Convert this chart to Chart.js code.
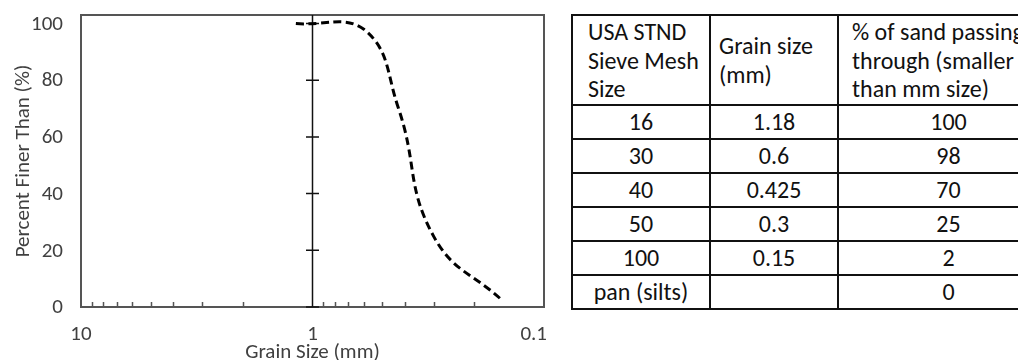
<!DOCTYPE html>
<html>
<head>
<meta charset="utf-8">
<script src="https://cdn.jsdelivr.net/npm/chart.js@4/dist/chart.umd.min.js"></script>
<style>
  html, body { margin: 0; padding: 0; background: #fff; overflow: hidden; width: 1018px; height: 360px; }
  #wrap { position: absolute; left: 0; top: 0; width: 560px; height: 360px; }
  table { position: absolute; left: 571px; top: 14px; border-collapse: collapse; table-layout: fixed; width: 487px;
          font-family: Carlito, Lato, sans-serif; font-size: 24px; color: #111; }
  td { border: 2px solid #111; padding: 0; white-space: nowrap; text-align: center; line-height: 29px; overflow: visible; }
  tr { height: 34px; }
  tr.head { height: 88px; }
  tr.head td { text-align: left; vertical-align: middle; line-height: 28.5px; padding-top: 2px; }
</style>
</head>
<body>
<div id="wrap"><canvas id="c" width="560" height="360"></canvas></div>
<table id="tbl"></table>
<script>
// ---- data ----
const grainSize = [1.18, 0.6, 0.425, 0.3, 0.15];
const percentFiner = [100, 98, 70, 25, 2];
const xTickLabels = [10, 1, 0.1];
const yTickValues = [0, 20, 40, 60, 80, 100];
const tableHeaders = [
  ['USA STND', 'Sieve Mesh', 'Size'],
  ['Grain size', '(mm)'],
  ['% of sand passing', 'through (smaller', 'than mm size)']
];
const meshSizes = ['16', '30', '40', '50', '100', 'pan (silts)'];
const tableGrain = ['1.18', '0.6', '0.425', '0.3', '0.15', ''];
const tablePassing = ['100', '98', '70', '25', '2', '0'];

// ---- table ----
const tbl = document.getElementById('tbl');
const colW = [138, 128, 221];
const headPad = [15, 8, 13];
let html = '<colgroup>' + colW.map(w => `<col style="width:${w}px">`).join('') + '</colgroup>';
html += '<tr class="head">' + tableHeaders.map((h, i) =>
  `<td style="padding-left:${headPad[i]}px">${h.join('<br>')}</td>`).join('') + '</tr>';
meshSizes.forEach((m, i) => {
  html += `<tr><td>${m}</td><td>${tableGrain[i]}</td><td>${tablePassing[i]}</td></tr>`;
});
tbl.innerHTML = html;

// ---- chart ----
const FONT = "Carlito, Lato, sans-serif";
const FS = 21;
const textColor = '#404040';
const axisColor = '#555555';

const axesPlugin = {
  id: 'excelAxes',
  beforeDatasetsDraw(chart) {
    const {ctx, chartArea: a, scales: {x, y}} = chart;
    ctx.save();
    ctx.strokeStyle = axisColor;
    ctx.lineWidth = 2;
    ctx.strokeRect(a.left, a.top, a.right - a.left, a.bottom - a.top);
    ctx.lineWidth = 1.5;
    ctx.beginPath();
    for (let p = -1; p < 1; p++) {
      for (let k = 2; k <= 9; k++) {
        const px = Math.round(x.getPixelForValue(k * Math.pow(10, p))) + 0.5;
        ctx.moveTo(px, a.bottom);
        ctx.lineTo(px, a.bottom - 5);
      }
    }
    ctx.stroke();
    const x1 = x.getPixelForValue(1);
    ctx.strokeStyle = '#111';
    ctx.lineWidth = 1.5;
    ctx.beginPath();
    ctx.moveTo(x1, a.top);
    ctx.lineTo(x1, a.bottom);
    yTickValues.forEach(v => {
      const py = y.getPixelForValue(v);
      ctx.moveTo(x1 - 6.5, py);
      ctx.lineTo(x1 + 6.5, py);
    });
    ctx.stroke();
    // x tick labels (Excel keeps the last one inside the chart)
    ctx.fillStyle = textColor;
    ctx.font = `${FS}px ${FONT}`;
    ctx.textBaseline = 'alphabetic';
    xTickLabels.forEach((v, i) => {
      let px = x.getPixelForValue(v);
      ctx.textAlign = 'center';
      if (i === xTickLabels.length - 1) { ctx.textAlign = 'right'; px = a.right + 3; }
      ctx.fillText(String(v), px, a.bottom + 33);
    });
    ctx.restore();
  }
};

new Chart(document.getElementById('c'), {
  type: 'line',
  data: {
    datasets: [{
      data: grainSize.map((g, i) => ({x: g, y: percentFiner[i]})),
      borderColor: '#000',
      borderWidth: 3,
      borderDash: [8, 4.5],
      pointRadius: 0,
      tension: 0.45,
      fill: false
    }]
  },
  options: {
    responsive: false,
    animation: false,
    layout: {padding: {top: 15, right: 16, left: 0, bottom: 0}},
    plugins: {legend: {display: false}, tooltip: {enabled: false}},
    scales: {
      x: {
        type: 'logarithmic',
        reverse: true,
        min: 0.1,
        max: 10,
        afterBuildTicks: s => { s.ticks = xTickLabels.map(v => ({value: v})); },
        afterFit: s => { s.height = 53; s.paddingLeft = 0; s.paddingRight = 0; },
        grid: {display: false, drawTicks: false},
        border: {display: false},
        ticks: {display: false},
        title: {
          display: true, text: 'Grain Size (mm)', color: textColor,
          font: {family: FONT, size: FS, lineHeight: 1}, padding: {top: 0, bottom: -3}
        }
      },
      y: {
        min: 0,
        max: 103,
        afterBuildTicks: s => { s.ticks = yTickValues.map(v => ({value: v})); },
        afterFit: s => { s.width = 81; s.paddingTop = 0; s.paddingBottom = 0; },
        grid: {display: false, drawTicks: false},
        border: {display: false},
        ticks: {color: textColor, font: {family: FONT, size: FS}, padding: 18, labelOffset: 1},
        title: {
          display: true, text: 'Percent Finer Than (%)', color: textColor,
          font: {family: FONT, size: FS, lineHeight: 1}, padding: {top: 13, bottom: 0}
        }
      }
    }
  },
  plugins: [axesPlugin]
});
</script>
</body>
</html>
